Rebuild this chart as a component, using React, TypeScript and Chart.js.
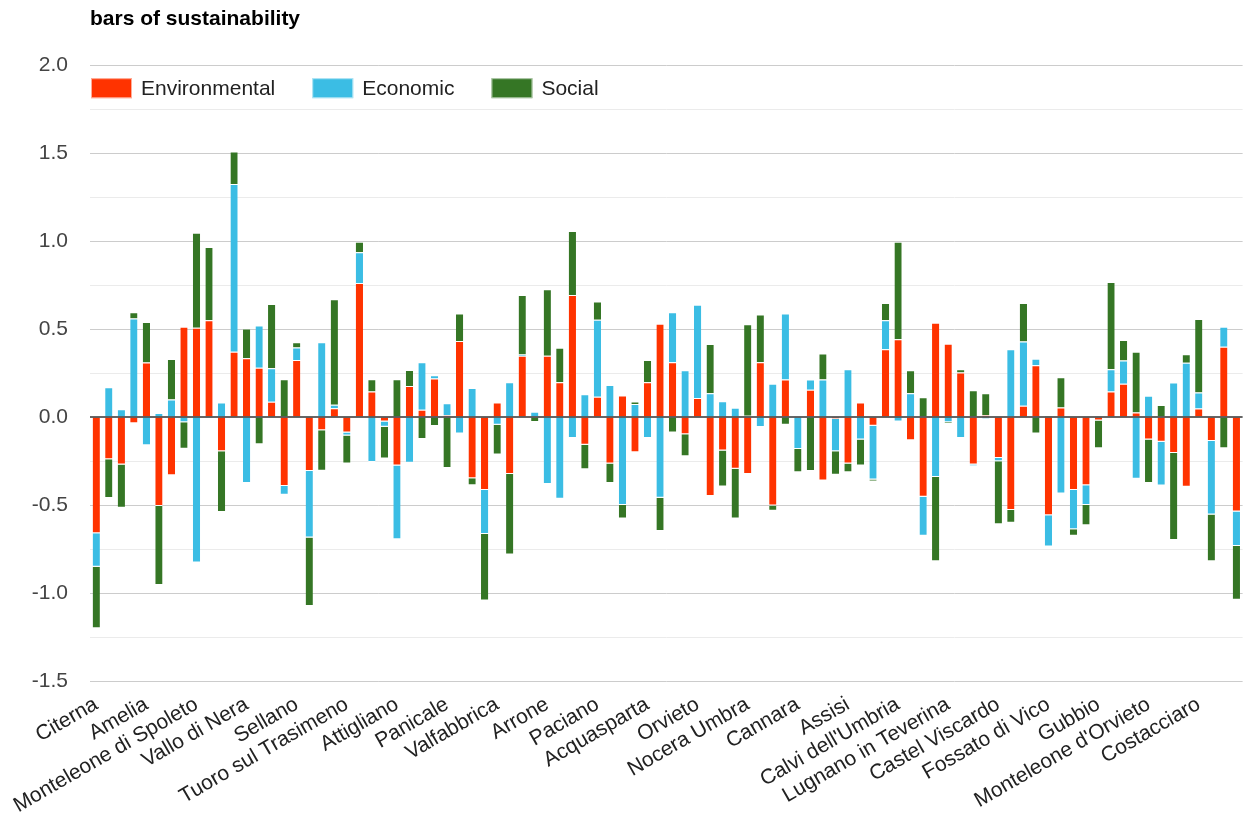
import React, { useEffect, useRef } from 'react';
import { Chart, registerables } from 'chart.js';

Chart.register(...registerables);

const labeledTowns = [
  'Citerna', 'Amelia', 'Monteleone di Spoleto', 'Vallo di Nera', 'Sellano',
  'Tuoro sul Trasimeno', 'Attigliano', 'Panicale', 'Valfabbrica', 'Arrone',
  'Paciano', 'Acquasparta', 'Orvieto', 'Nocera Umbra', 'Cannara', 'Assisi',
  "Calvi dell'Umbria", 'Lugnano in Teverina', 'Castel Viscardo', 'Fossato di Vico',
  'Gubbio', "Monteleone d'Orvieto", 'Costacciaro',
];

const environmental = [
  -0.66, -0.24, -0.27, -0.035, 0.31, -0.505, -0.33, 0.513, 0.508, 0.551,
  -0.194, 0.372, 0.334, 0.281, 0.087, -0.392, 0.325, -0.307, -0.075, 0.05,
  -0.087, 0.762, 0.145, -0.025, -0.275, 0.177, 0.042, 0.22, 0.011, 0.432,
  -0.347, -0.415, 0.083, -0.323, 0.349, 0, 0.349, 0.198, 0.694, -0.157,
  0.115, -0.264, 0.123, -0.2, 0.198, 0.53, 0.311, -0.098, 0.109, -0.449,
  -0.19, -0.294, -0.323, 0.311, -0.502, 0.213, 0, 0.155, -0.36, -0.011,
  -0.264, 0.083, -0.049, 0.385, 0.442, -0.132, -0.453, 0.536, 0.417, 0.253,
  -0.27, 0.011, -0.232, -0.528, 0.064, 0.294, -0.558, 0.055, -0.415, -0.387,
  -0.019, 0.145, 0.189, 0.026, -0.128, -0.14, -0.204, -0.396, 0.049, -0.136,
  0.4, -0.536,
];

const economic = [
  -0.19, 0.17, 0.045, 0.56, -0.16, 0.023, 0.1, -0.03, -0.826, -0.005,
  0.083, 0.953, -0.374, 0.24, 0.19, -0.05, 0.07, -0.377, 0.425, 0.02,
  -0.017, 0.175, -0.255, -0.03, -0.42, -0.26, 0.27, 0.018, 0.068, -0.094,
  0.166, -0.25, -0.043, 0.198, 0.007, 0.03, -0.381, -0.464, -0.119, 0.13,
  0.438, 0.183, -0.5, 0.075, -0.119, -0.458, 0.285, 0.266, 0.53, 0.136,
  0.09, 0.053, 0.008, -0.057, 0.189, 0.376, -0.181, 0.058, 0.213, -0.183,
  0.272, -0.128, -0.306, 0.166, -0.025, 0.136, -0.222, -0.34, -0.03, -0.119,
  -0.008, -0.011, -0.019, 0.385, 0.366, 0.038, -0.178, -0.434, -0.223, -0.113,
  0.008, 0.127, 0.132, -0.351, 0.121, -0.249, 0.196, 0.309, 0.091, -0.417,
  0.113, -0.196,
];

const social = [
  -0.35, -0.22, -0.245, 0.036, 0.23, -0.45, 0.23, -0.15, 0.54, 0.415,
  -0.345, 0.185, 0.17, -0.155, 0.366, 0.215, 0.03, -0.39, -0.23, 0.6,
  -0.16, 0.06, 0.07, -0.18, 0.215, 0.09, -0.125, -0.05, -0.29, 0.157,
  -0.04, -0.377, -0.17, -0.458, 0.338, -0.028, 0.377, 0.196, 0.364, -0.14,
  0.104, -0.11, -0.077, 0.013, 0.127, -0.19, -0.087, -0.125, 0, 0.28,
  -0.205, -0.283, 0.52, 0.272, -0.03, -0.043, -0.132, -0.307, 0.149, -0.134,
  -0.05, -0.147, -0.011, 0.098, 0.554, 0.13, 0.113, -0.479, -0.008, 0.019,
  0.153, 0.125, -0.358, -0.072, 0.219, -0.094, 0.008, 0.171, -0.037, -0.115,
  -0.158, 0.496, 0.117, 0.346, -0.246, 0.068, -0.494, 0.048, 0.418, -0.266,
  -0.177, -0.306,
];

const LABEL_EVERY = 4;
const categories = environmental.map((_, i) =>
  i % LABEL_EVERY === 0 ? labeledTowns[i / LABEL_EVERY] ?? '' : ''
);

const seriesNames = ['Environmental', 'Economic', 'Social'];
const seriesColors = ['#ff3300', '#3bbde4', '#357625'];

const Y_MIN = -1.5;
const Y_MAX = 2.0;
const Y_STEP = 0.25;

const FONT = "'Liberation Sans', Arial, Helvetica, sans-serif";

const zeroLinePlugin = {
  id: 'zeroLine',
  afterDatasetsDraw(chart: any) {
    const y = chart.scales.y.getPixelForValue(0);
    const { left, right } = chart.chartArea;
    const ctx = chart.ctx;
    ctx.save();
    ctx.strokeStyle = '#333333';
    ctx.lineWidth = 1.5;
    ctx.beginPath();
    ctx.moveTo(left, y);
    ctx.lineTo(right, y);
    ctx.stroke();
    ctx.restore();
  },
};

// Legend drawn inside the top of the plot area, as in the reference
const insideLegendPlugin = {
  id: 'insideLegend',
  afterDraw(chart: any) {
    const { ctx, chartArea } = chart;
    const boxW = 41;
    const boxH = 20;
    let x = chartArea.left + 1;
    const yTop = chartArea.top + 13;
    ctx.save();
    ctx.font = `21px ${FONT}`;
    ctx.textBaseline = 'middle';
    ctx.textAlign = 'left';
    chart.data.datasets.forEach((ds: any) => {
      ctx.fillStyle = ds.backgroundColor;
      ctx.fillRect(x, yTop, boxW, boxH);
      ctx.strokeStyle = 'rgba(255,255,255,0.6)';
      ctx.lineWidth = 1;
      ctx.strokeRect(x + 0.5, yTop + 0.5, boxW - 1, boxH - 1);
      x += boxW + 9;
      ctx.fillStyle = '#222222';
      ctx.fillText(ds.label, x, yTop + boxH / 2 + 1);
      x += ctx.measureText(ds.label).width + 37;
    });
    ctx.restore();
  },
};

export default function App() {
  const canvasRef = useRef<HTMLCanvasElement | null>(null);

  useEffect(() => {
    if (!canvasRef.current) return;
    Chart.defaults.font.family = FONT;
    const seriesData = [environmental, economic, social];
    const chart = new Chart(canvasRef.current, {
      type: 'bar',
      data: {
        labels: categories,
        datasets: seriesNames.map((name, i) => ({
          label: name,
          data: seriesData[i],
          backgroundColor: seriesColors[i],
          borderColor: 'rgba(255,255,255,0.85)',
          borderWidth: { top: 1, bottom: 1, left: 0, right: 0 },
          borderSkipped: 'start',
          barPercentage: 0.58,
          categoryPercentage: 1,
        })),
      },
      options: {
        animation: false,
        responsive: true,
        maintainAspectRatio: false,
        layout: { padding: { left: 15, right: 1, top: 0, bottom: 0 } },
        plugins: {
          title: {
            display: true,
            text: 'bars of sustainability',
            align: 'start',
            fullSize: false,
            color: '#000000',
            font: { size: 21, weight: 'bold', family: FONT },
            padding: { top: 7, bottom: 33 },
          },
          legend: { display: false },
          tooltip: { enabled: false },
        },
        scales: {
          x: {
            stacked: true,
            grid: { display: false },
            border: { display: false },
            afterFit: (scale: any) => {
              scale.height = 137;
            },
            ticks: {
              autoSkip: false,
              maxRotation: 30,
              minRotation: 30,
              padding: 3,
              color: '#222222',
              font: { size: 21, family: FONT },
              callback: (_v: any, i: number) => categories[i],
            },
          },
          y: {
            stacked: true,
            min: Y_MIN,
            max: Y_MAX,
            border: { display: false },
            afterFit: (scale: any) => {
              scale.width = 75;
            },
            grid: {
              drawTicks: false,
              color: (ctx: any) => {
                const v = ctx.tick ? ctx.tick.value : 0;
                if (Math.abs(v) < 1e-9) return 'rgba(0,0,0,0)';
                const r = Math.abs(v / 0.5 - Math.round(v / 0.5));
                return r < 1e-6 ? '#cccccc' : '#ebebeb';
              },
              lineWidth: 1,
            },
            ticks: {
              stepSize: Y_STEP,
              padding: 22,
              color: '#444444',
              font: { size: 21, family: FONT },
              callback: (v: any) => {
                const n = Number(v);
                const r = Math.abs(n / 0.5 - Math.round(n / 0.5));
                return r < 1e-6 ? n.toFixed(1) : '';
              },
            },
          },
        },
      },
      plugins: [zeroLinePlugin, insideLegendPlugin],
    });
    return () => chart.destroy();
  }, []);

  return (
    <div style={{ position: 'fixed', left: 0, top: 0, width: 1252, height: 818, background: '#ffffff' }}>
      <canvas ref={canvasRef} />
    </div>
  );
}
